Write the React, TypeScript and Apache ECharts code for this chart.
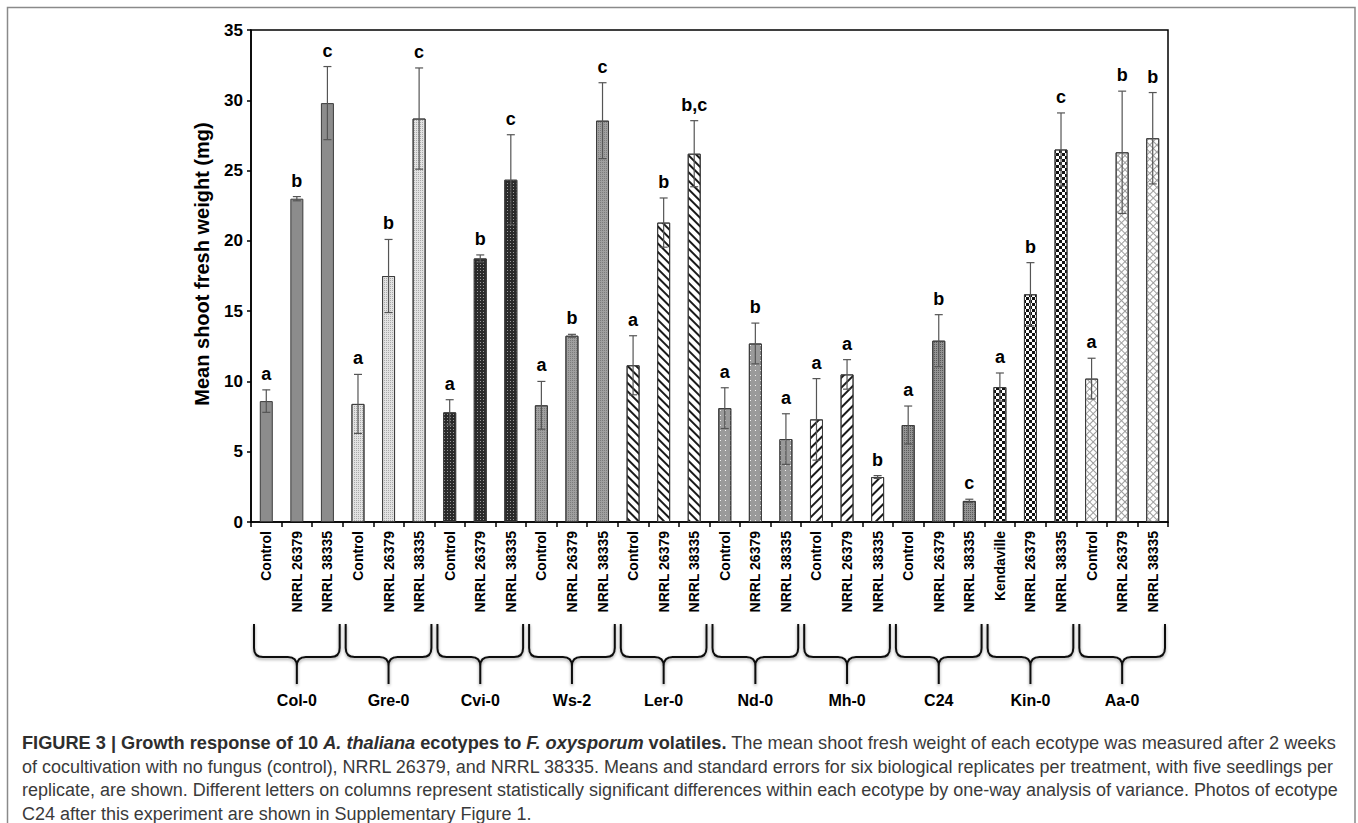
import React, { useEffect, useRef } from "react";
import * as echarts from "echarts";

// Ecotypes (groups of three bars) and per-bar treatment tick labels
const ecotypes = ["Col-0", "Gre-0", "Cvi-0", "Ws-2", "Ler-0", "Nd-0", "Mh-0", "C24", "Kin-0", "Aa-0"];
const treatmentLabels = [
  "Control", "NRRL 26379", "NRRL 38335",
  "Control", "NRRL 26379", "NRRL 38335",
  "Control", "NRRL 26379", "NRRL 38335",
  "Control", "NRRL 26379", "NRRL 38335",
  "Control", "NRRL 26379", "NRRL 38335",
  "Control", "NRRL 26379", "NRRL 38335",
  "Control", "NRRL 26379", "NRRL 38335",
  "Control", "NRRL 26379", "NRRL 38335",
  "Kendaville", "NRRL 26379", "NRRL 38335",
  "Control", "NRRL 26379", "NRRL 38335",
];

// Mean shoot fresh weight (mg)
const meanWeight = [
  8.6, 23.0, 29.8,
  8.4, 17.5, 28.7,
  7.8, 18.75, 24.35,
  8.3, 13.25, 28.55,
  11.15, 21.3, 26.2,
  8.1, 12.7, 5.9,
  7.3, 10.5, 3.2,
  6.9, 12.9, 1.5,
  9.6, 16.2, 26.5,
  10.2, 26.3, 27.3,
];

// Standard errors
const stdError = [
  0.8, 0.15, 2.6,
  2.1, 2.6, 3.6,
  0.9, 0.25, 3.2,
  1.7, 0.1, 2.7,
  2.1, 1.75, 2.35,
  1.45, 1.45, 1.8,
  2.9, 1.05, 0.1,
  1.35, 1.85, 0.12,
  1.0, 2.25, 2.6,
  1.45, 4.35, 3.25,
];

// Significance letters
const sigLetters = [
  "a", "b", "c",
  "a", "b", "c",
  "a", "b", "c",
  "a", "b", "c",
  "a", "b", "b,c",
  "a", "b", "a",
  "a", "a", "b",
  "a", "b", "c",
  "a", "b", "c",
  "a", "b", "b",
];

const yTicks = { min: 0, max: 35, interval: 5 };

const captionLines = [
  "{b|FIGURE 3 | Growth response of 10 }{bi|A. thaliana}{b| ecotypes to }{bi|F. oxysporum}{b| volatiles.}{n| The mean shoot fresh weight of each ecotype was measured after 2 weeks}",
  "{n|of cocultivation with no fungus (control), NRRL 26379, and NRRL 38335. Means and standard errors for six biological replicates per treatment, with five seedlings per}",
  "{n|replicate, are shown. Different letters on columns represent statistically significant differences within each ecotype by one-way analysis of variance. Photos of ecotype}",
  "{n|C24 after this experiment are shown in Supplementary Figure 1.}",
];
const captionSizes = [18.2, 17.98, 17.98, 17.98];

const AXIS_FONT = "'Liberation Sans', Arial, sans-serif";
const CAPTION_FONT = "'Liberation Sans', Arial, sans-serif";

// Fill pattern of each ecotype's bars
const groupFills: any[] = [
  { color: "#8c8c8c" },
  { color: "#e2e2e2", decal: { symbol: "rect", symbolSize: 1, color: "#a9a9a9", dashArrayX: [1, 1], dashArrayY: [1, 1] } },
  { color: "#2a2a2a", decal: { symbol: "rect", symbolSize: 1, color: "#9a9a9a", dashArrayX: [1, 2], dashArrayY: [1, 2] } },
  { color: "#a0a0a0", decal: { symbol: "rect", symbolSize: 1, color: "#7c7c7c", dashArrayX: [1, 1], dashArrayY: [1, 1] } },
  { color: "#ffffff", decal: { symbol: "rect", symbolSize: 1, color: "#1a1a1a", dashArrayX: [1, 0], dashArrayY: [1.6, 3.2], rotation: Math.PI / 4 } },
  { color: "#9a9a9a", decal: { symbol: "rect", symbolSize: 1, color: "#f4f4f4", dashArrayX: [1, 4], dashArrayY: [1, 4] } },
  { color: "#ffffff", decal: { symbol: "rect", symbolSize: 1, color: "#1a1a1a", dashArrayX: [1, 0], dashArrayY: [1.6, 4.2], rotation: -Math.PI / 4 } },
  { color: "#939393", decal: { symbol: "rect", symbolSize: 1, color: "#5a5a5a", dashArrayX: [1, 1], dashArrayY: [1, 1] } },
  { color: "#ffffff", decal: { symbol: "rect", symbolSize: 1, color: "#111111", dashArrayX: [[3, 3], [0, 3, 3, 0]], dashArrayY: [3, 0] } },
  { color: "#ffffff", decal: { symbol: "rect", symbolSize: 1, color: "#9d9d9d", dashArrayX: [[5, 0], [1, 4], [1, 4], [1, 4], [1, 4]], dashArrayY: [1, 0], rotation: Math.PI / 4 } },
];

const categories = treatmentLabels.map((t, i) => `${ecotypes[Math.floor(i / 3)]} ${t}`);

// Curly brace drawn as one path: two hooks at the ends and a stem in the middle
const BraceShape = (echarts.graphic as any).extendShape({
  shape: { xL: 0, xR: 0, xM: 0, yTop: 0, yMid: 0, yBot: 0, r: 6 },
  buildPath(ctx: any, s: any) {
    ctx.moveTo(s.xL, s.yTop);
    ctx.lineTo(s.xL, s.yMid - s.r);
    ctx.quadraticCurveTo(s.xL, s.yMid, s.xL + s.r, s.yMid);
    ctx.lineTo(s.xM - s.r, s.yMid);
    ctx.quadraticCurveTo(s.xM, s.yMid, s.xM, s.yMid + s.r);
    ctx.lineTo(s.xM, s.yBot);
    ctx.moveTo(s.xM, s.yMid + s.r);
    ctx.quadraticCurveTo(s.xM, s.yMid, s.xM + s.r, s.yMid);
    ctx.lineTo(s.xR - s.r, s.yMid);
    ctx.quadraticCurveTo(s.xR, s.yMid, s.xR, s.yMid - s.r);
    ctx.lineTo(s.xR, s.yTop);
  },
});
(echarts.graphic as any).registerShape("brace", BraceShape);

function buildOption(): any {
  const barData = meanWeight.map((v, i) => {
    const fill = groupFills[Math.floor(i / 3)];
    return {
      value: v,
      itemStyle: { color: fill.color, decal: fill.decal, borderColor: "#3c3c3c", borderWidth: 1 },
    };
  });
  const errData = meanWeight.map((v, i) => [i, v, stdError[i]]);

  return {
    animation: false,
    backgroundColor: "#ffffff",
    grid: { left: 251, right: 190, top: 30, bottom: 301, show: true, borderColor: "#000", borderWidth: 1.5, containLabel: false },
    xAxis: [
      {
        type: "category",
        data: categories,
        boundaryGap: true,
        axisLine: { show: true, lineStyle: { color: "#000", width: 1.5 } },
        axisTick: { show: true, length: 5, lineStyle: { color: "#000", width: 1.5 } },
        axisLabel: {
          rotate: 90,
          interval: 0,
          margin: 9,
          fontSize: 14,
          fontWeight: "bold",
          color: "#000",
          fontFamily: AXIS_FONT,
          formatter: (_v: string, idx: number) => treatmentLabels[idx],
        },
        splitLine: { show: false },
      },
      {
        type: "category",
        data: ecotypes,
        position: "bottom",
        offset: 170,
        axisLine: { show: false },
        axisTick: { show: false },
        axisLabel: { margin: 0, fontSize: 16, fontWeight: "bold", color: "#000", fontFamily: AXIS_FONT },
        splitLine: { show: false },
      },
    ],
    yAxis: {
      type: "value",
      min: yTicks.min,
      max: yTicks.max,
      interval: yTicks.interval,
      name: "Mean shoot fresh weight (mg)",
      nameLocation: "middle",
      nameGap: 39,
      nameTextStyle: { fontSize: 20, fontWeight: "bold", color: "#000", fontFamily: AXIS_FONT, padding: [0, 0, 0, 24] },
      axisLine: { show: true, lineStyle: { color: "#000", width: 1.5 } },
      axisTick: { show: true, length: 4, lineStyle: { color: "#000", width: 1.5 } },
      axisLabel: { fontSize: 17, fontWeight: "bold", color: "#000", margin: 8, fontFamily: AXIS_FONT },
      splitLine: { show: false },
    },
    series: [
      {
        type: "bar",
        xAxisIndex: 0,
        barWidth: 13,
        data: barData,
        z: 2,
      },
      {
        type: "custom",
        xAxisIndex: 0,
        z: 3,
        data: errData,
        renderItem: (params: any, api: any) => {
          const idx = api.value(0);
          const mean = api.value(1);
          const err = api.value(2);
          const top = api.coord([idx, mean + err]);
          const bot = api.coord([idx, mean - err]);
          const half = 4;
          const lineStyle = { stroke: "#555", lineWidth: 1.2 };
          return {
            type: "group",
            children: [
              { type: "line", shape: { x1: top[0], y1: top[1], x2: bot[0], y2: bot[1] }, style: lineStyle },
              { type: "line", shape: { x1: top[0] - half, y1: top[1], x2: top[0] + half, y2: top[1] }, style: lineStyle },
              { type: "line", shape: { x1: bot[0] - half, y1: bot[1], x2: bot[0] + half, y2: bot[1] }, style: lineStyle },
              {
                type: "text",
                style: {
                  text: sigLetters[params.dataIndex],
                  x: top[0],
                  y: top[1] - 7,
                  align: "center",
                  verticalAlign: "bottom",
                  fill: "#000",
                  font: `bold 18px ${AXIS_FONT}`,
                },
              },
            ],
          };
        },
      },
    ],
  };
}

export default function App() {
  const ref = useRef<HTMLDivElement | null>(null);

  useEffect(() => {
    const el = ref.current;
    if (!el) return;
    const chart = echarts.init(el, null, { renderer: "svg" });
    chart.setOption(buildOption());

    // Braces under each ecotype's three bars, positioned from the category axis
    const c0 = chart.convertToPixel({ xAxisIndex: 0 }, 0) as number;
    const c1 = chart.convertToPixel({ xAxisIndex: 0 }, 1) as number;
    const cw = c1 - c0;
    const graphics: any[] = [];
    ecotypes.forEach((_, g) => {
      const left = (chart.convertToPixel({ xAxisIndex: 0 }, g * 3) as number) - cw / 2 + 3;
      const right = (chart.convertToPixel({ xAxisIndex: 0 }, g * 3 + 2) as number) + cw / 2 - 3;
      const mid = chart.convertToPixel({ xAxisIndex: 0 }, g * 3 + 1) as number;
      graphics.push({
        type: "brace",
        shape: { xL: left, xR: right, xM: mid, yTop: 624, yMid: 657, yBot: 684, r: 9 },
        style: {
          stroke: "#111",
          lineWidth: 2,
          fill: null,
          shadowBlur: 3,
          shadowColor: "rgba(0,0,0,0.4)",
          shadowOffsetY: 1.5,
        },
      });
    });

    // Outer figure frame
    graphics.push({
      type: "rect",
      shape: { x: 7.5, y: 7.5, width: 1347.5, height: 900 },
      style: { fill: null, stroke: "#8a8a8a", lineWidth: 1.5 },
      silent: true,
    });

    // Caption
    captionLines.forEach((line, i) => {
      const fs = captionSizes[i];
      graphics.push({
        type: "text",
        x: 22,
        y: 743 + i * 23.5,
        style: {
          text: line,
          verticalAlign: "middle",
          fill: "#2e2e2e",
          rich: {
            b: { fontFamily: CAPTION_FONT, fontSize: fs, fontWeight: "bold", fill: "#2e2e2e" },
            bi: { fontFamily: CAPTION_FONT, fontSize: fs, fontWeight: "bold", fontStyle: "italic", fill: "#2e2e2e" },
            n: { fontFamily: CAPTION_FONT, fontSize: fs, fill: "#3a3a3a" },
          },
        },
      });
    });

    chart.setOption({ graphic: graphics });

    return () => {
      chart.dispose();
    };
  }, []);

  return (
    <div
      ref={ref}
      style={{ position: "absolute", left: 0, top: 0, width: 1358, height: 823, background: "#fff" }}
    />
  );
}
